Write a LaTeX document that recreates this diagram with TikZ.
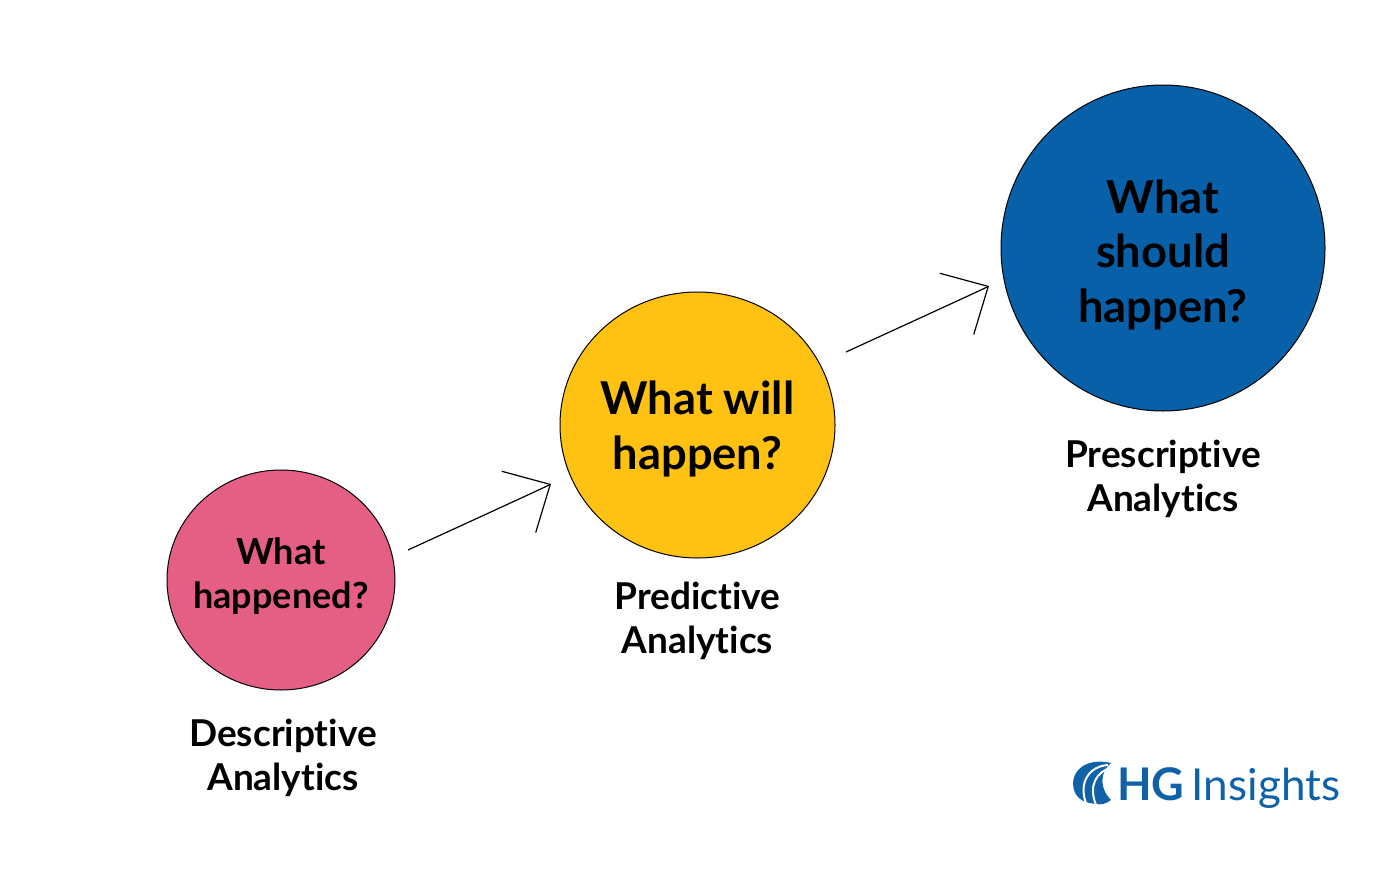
\documentclass[tikz,border=0pt]{standalone}
\usepackage{fontspec}
\usepackage{xcolor}
\usepackage{tikz}
\usetikzlibrary{arrows.meta,positioning,shapes.geometric}
\setmainfont[Ligatures=NoCommon]{Lato}
\definecolor{descpink}{HTML}{E55F85}
\definecolor{predyellow}{HTML}{FFC212}
\definecolor{presblue}{HTML}{0860A8}
\definecolor{logoblue}{HTML}{0F62A8}

\begin{document}
\begin{tikzpicture}[
    x=1pt, y=-1pt,
    font=\bfseries,
    % Styles
    stage/.style={ellipse, draw=black, line width=1pt, inner sep=-12pt, align=center, text=black, text depth=8pt},
    smalltext/.style={font=\fontsize{36}{44}\selectfont\bfseries},
    bigtext/.style={font=\fontsize{45.3}{54.5}\selectfont\bfseries},
    caption/.style={font=\fontsize{37}{44}\selectfont\bfseries, align=center, text=black, inner sep=0pt},
    arrow/.style={-{Straight Barb[length=36pt,width=70pt]}, line width=1.2pt}
]
\useasboundingbox (0,0) rectangle (1400,875);

% --- Stages ---
\node[stage, smalltext, fill=descpink, minimum width=228pt, minimum height=220pt, text height=64pt] (desc) at (281,580) {What\\happened?};
\node[stage, bigtext, fill=predyellow, minimum width=275pt, minimum height=266pt, text height=96pt] (pred) at (697.5,425) {What will\\happen?};
\node[stage, bigtext, fill=presblue, minimum width=324pt, minimum height=326pt, text height=156pt] (pres) at (1163,248) {What\\should\\happen?};

% --- Captions ---
\node[caption, below=28pt of desc, xshift=2pt] (desc_label) {Descriptive\\Analytics};
\node[caption, below=23pt of pred] (pred_label) {Predictive\\Analytics};
\node[caption, below=28pt of pres] (pres_label) {Prescriptive\\Analytics};

% --- Connections ---
\coordinate (a_start) at (408,550);
\coordinate (a_end) at (551,484);
\coordinate (b_start) at (846,352);
\coordinate (b_end) at (989,286);
\draw[arrow] (a_start) to[out=25, in=209, looseness=0.1] (a_end);
\draw[arrow] (b_start) to[out=25, in=209, looseness=0.1] (b_end);

% --- Logo ---
\fill[logoblue] (1074,790) .. controls (1069,772) and (1085,757) .. (1111,763)
    .. controls (1100,772) and (1099,788) .. (1111,800)
    .. controls (1106,804) and (1101,805) .. (1096,804)
    .. controls (1086,803) and (1077,800) .. (1074,790) -- cycle;
\draw[white, line width=2pt] (1108,765) .. controls (1090,766) and (1078,782) .. (1086,803);
\draw[white, line width=2pt] (1110,768) .. controls (1097,772) and (1088,785) .. (1096,805);
\node[inner sep=0pt, anchor=base west, text=logoblue, font=\fontsize{45}{45}\selectfont\bfseries] (logo_hg) at (1117,800) {HG};
\node[inner sep=0pt, text=logoblue, font=\fontsize{44}{44}\selectfont\mdseries, right=7pt of logo_hg.base east, anchor=base west] (logo_name) {Insights};

\end{tikzpicture}
\end{document}
